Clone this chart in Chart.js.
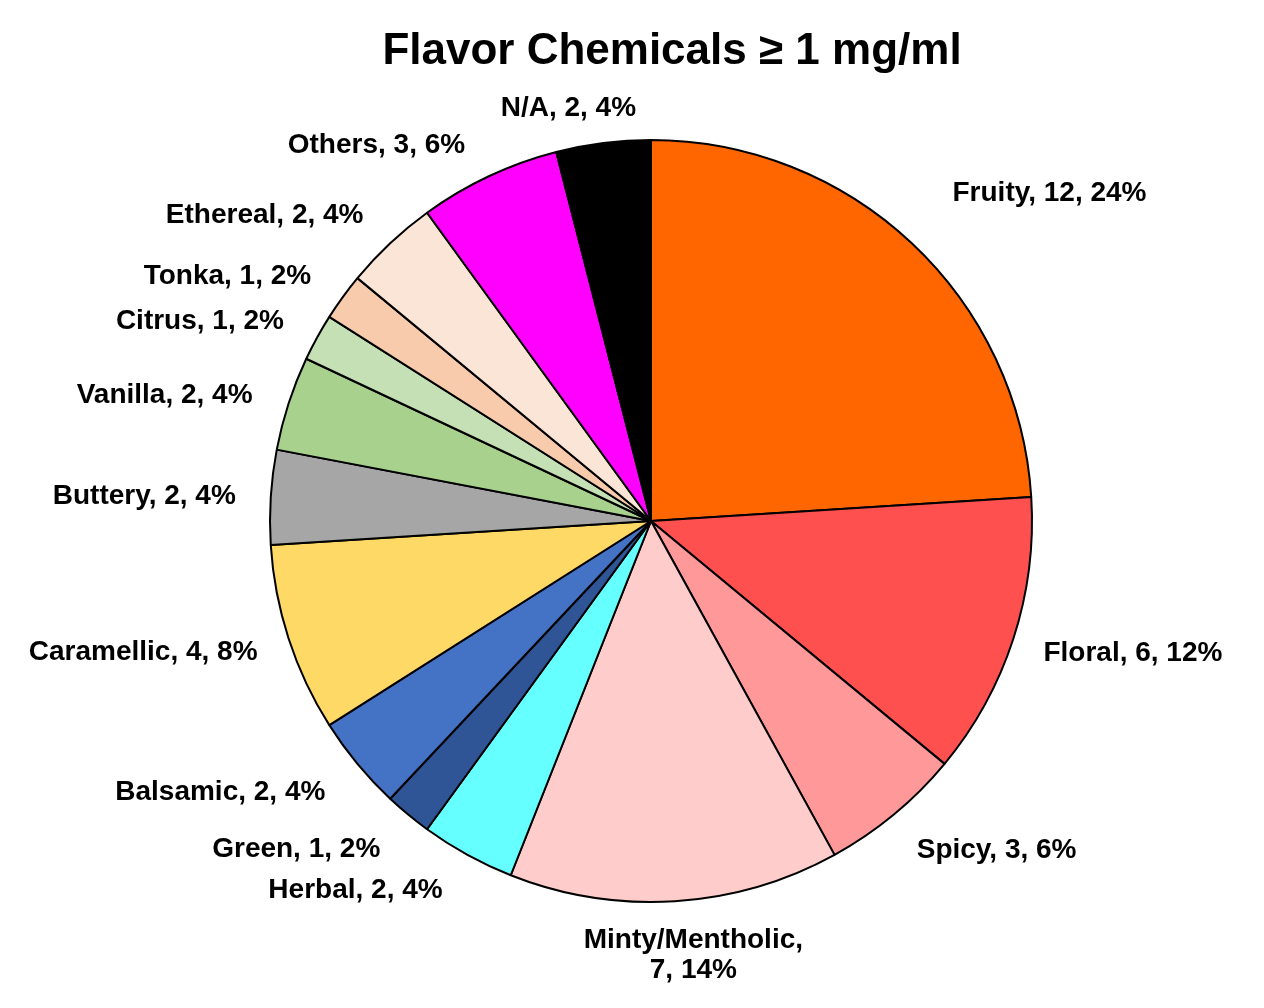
<!DOCTYPE html>
<html>
<head>
<meta charset="utf-8">
<script src="https://cdn.jsdelivr.net/npm/chart.js@4/dist/chart.umd.min.js"></script>
<style>
  html, body { margin: 0; padding: 0; background: #fff; }
  canvas { display: block; }
</style>
</head>
<body>
<canvas id="c" width="1264" height="1008"></canvas>
<script>
// ---- data ----
const chartTitle = 'Flavor Chemicals \u2265 1 mg/ml';
const categories = ['Fruity', 'Floral', 'Spicy', 'Minty/Mentholic', 'Herbal', 'Green', 'Balsamic',
  'Caramellic', 'Buttery', 'Vanilla', 'Citrus', 'Tonka', 'Ethereal', 'Others', 'N/A'];
const counts = [12, 6, 3, 7, 2, 1, 2, 4, 2, 2, 1, 1, 2, 3, 2];
const percents = ['24%', '12%', '6%', '14%', '4%', '2%', '4%', '8%', '4%', '4%', '2%', '2%', '4%', '6%', '4%'];
const sliceColors = ['#FF6600', '#FF5050', '#FF9999', '#FFCCCC', '#66FFFF', '#2F5597', '#4472C4',
  '#FFD966', '#A6A6A6', '#A9D18E', '#C5E0B4', '#F8CBAD', '#FBE5D6', '#FF00FF', '#000000'];

// label layout tweaks (pixels), separate from data
const labelDx = [14, -7, -2, 16, -6, -3, -2, 6, 4, 1, 1, 0, 0, -7, -30];
const labelDy = [-22, 2, 6, 15, 1, 5, 4, 1, 2, 4, 3, 2, 0, 4, 4];
const LABEL_R = 420;
const LABEL_FONT = 'bold 28px "Liberation Sans", Arial, sans-serif';

const labelPlugin = {
  id: 'sliceLabels',
  afterDatasetsDraw(chart) {
    const ctx = chart.ctx;
    const meta = chart.getDatasetMeta(0);
    ctx.save();
    ctx.font = LABEL_FONT;
    ctx.fillStyle = '#000';
    ctx.textBaseline = 'middle';
    meta.data.forEach((arc, i) => {
      const p = arc.getProps(['x', 'y', 'startAngle', 'endAngle'], true);
      const a = (p.startAngle + p.endAngle) / 2;
      const cx = Math.cos(a), sy = Math.sin(a);
      const x = p.x + LABEL_R * cx + labelDx[i];
      const y = p.y + LABEL_R * sy + labelDy[i];
      let align = 'center';
      if (cx > 0.2) align = 'left';
      else if (cx < -0.2) align = 'right';
      ctx.textAlign = align;
      const name = categories[i];
      if (name.length > 12) {
        ctx.fillText(name + ',', x, y - 15);
        ctx.fillText(counts[i] + ', ' + percents[i], x, y + 15);
      } else {
        ctx.fillText(name + ', ' + counts[i] + ', ' + percents[i], x, y);
      }
    });
    ctx.restore();
  }
};

const titlePlugin = {
  id: 'bigTitle',
  afterDraw(chart) {
    const ctx = chart.ctx;
    ctx.save();
    ctx.font = 'bold 44px "Liberation Sans", Arial, sans-serif';
    ctx.fillStyle = '#000';
    ctx.textAlign = 'center';
    ctx.textBaseline = 'middle';
    ctx.fillText(chartTitle, 672, 52);
    ctx.restore();
  }
};

const bgPlugin = {
  id: 'bg',
  beforeDraw(chart) {
    const ctx = chart.ctx;
    ctx.save();
    ctx.fillStyle = '#fff';
    ctx.fillRect(0, 0, chart.width, chart.height);
    ctx.restore();
  }
};

new Chart(document.getElementById('c'), {
  type: 'pie',
  data: {
    labels: categories,
    datasets: [{
      data: counts,
      backgroundColor: sliceColors,
      borderColor: '#000',
      borderWidth: 2
    }]
  },
  options: {
    responsive: false,
    animation: false,
    radius: 381,
    layout: { padding: { left: 269, right: 231, top: 139, bottom: 105 } },
    plugins: {
      legend: { display: false },
      title: { display: false },
      tooltip: { enabled: false }
    }
  },
  plugins: [bgPlugin, labelPlugin, titlePlugin]
});
</script>
</body>
</html>
